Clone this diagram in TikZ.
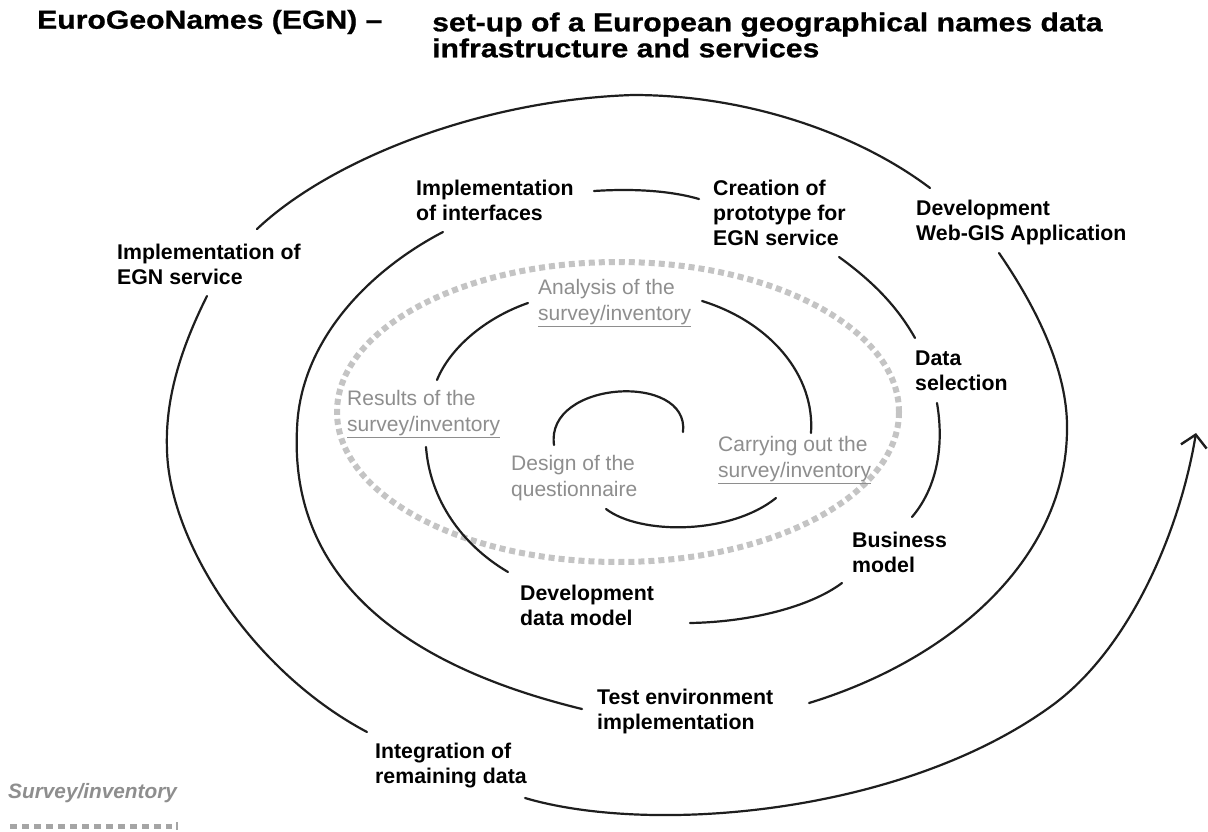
\documentclass[tikz,border=0pt]{standalone}
\usepackage{fontspec}
\setmainfont{Liberation Sans}
\newfontfamily\egntitlefont[FakeStretch=1.16, FakeBold=0.8, Ligatures=TeX]{Liberation Sans Bold}
\usetikzlibrary{arrows.meta}
\definecolor{graytext}{HTML}{8E8E8E}
\definecolor{graydots}{HTML}{C4C4C4}
\definecolor{spiralc}{HTML}{1E1E1E}
\begin{document}
\begin{tikzpicture}[x=1pt,y=-1pt,
  spiral/.style={line width=2.2pt, draw=spiralc, line cap=round},
  lbl/.style={font=\bfseries\fontsize{21.3}{25}\selectfont, align=left, anchor=west, inner sep=0pt, text=black},
  glbl/.style={font=\fontsize{21}{26}\selectfont, align=left, anchor=west, inner sep=0pt, text=graytext},
  ttl/.style={font=\egntitlefont\fontsize{26}{26}\selectfont, align=left, anchor=west, inner sep=0pt},
  surveyline/.style={draw=graydots, line width=6pt, dash pattern=on 6pt off 4pt}]
\useasboundingbox (0,0) rectangle (1208,832);
\fill[white] (0,0) rectangle (1208,832);

% title
\node[ttl] (title1) at (37,22) {EuroGeoNames (EGN) –};
\node[ttl] (title2) at (432,35) {set-up of a European geographical names data\\infrastructure and services};

% survey/inventory ellipse
\draw[surveyline] (618,412) ellipse [x radius=281, y radius=150];

% spiral segments, from the centre outwards
\draw[spiral] (554,445) .. controls (545,380) and (690,372) .. (683,432);
\draw[spiral] (606,509) .. controls (640,535) and (730,535) .. (776,498);
\draw[spiral] (702,301) .. controls (770,322) and (815,375) .. (811,433);
\draw[spiral] (528,303) .. controls (485,318) and (450,348) .. (437,380);
\draw[spiral] (426,447) .. controls (430,500) and (462,545) .. (508,572);
\draw[spiral] (690,623) .. controls (750,622) and (810,607) .. (842,583);
\draw[spiral] (937,403) .. controls (945,450) and (935,490) .. (912,517);
\draw[spiral] (839,257) .. controls (875,283) and (898,308) .. (915,338);
\draw[spiral] (594,191) .. controls (640,188) and (675,192) .. (699,199);
\draw[spiral] (443,232) .. controls (370,270) and (300,340) .. (297,429)
                        .. controls (292,530) and (340,650) .. (582,709);
\draw[spiral] (999,253) .. controls (1045,320) and (1068,380) .. (1067,430)
                        .. controls (1066,560) and (950,660) .. (809,703);
\draw[spiral] (257,229) .. controls (330,160) and (480,100) .. (633,95)
                        .. controls (750,95) and (860,135) .. (930,188);
\draw[spiral] (207,296) .. controls (180,350) and (165,400) .. (167,450)
                        .. controls (169,540) and (250,670) .. (367,732);
\draw[spiral, -{Straight Barb[length=12pt, width=26pt, line width=2.4pt]}]
      (525,798) .. controls (650,835) and (900,815) .. (1050,707)
                .. controls (1130,650) and (1180,530) .. (1196,433);

% black labels
\node[lbl] (implegn) at (117,264.5) {Implementation of\\EGN service};
\node[lbl] (implif) at (416,200.5) {Implementation\\of interfaces};
\node[lbl] (creat) at (713,213) {Creation of\\prototype for\\EGN service};
\node[lbl] (webgis) at (916,222.5) {Development\\Web-GIS Application};
\node[lbl] (datasel) at (915,370.5) {Data\\selection};
\node[lbl] (busmod) at (852,552.5) {Business\\model};
\node[lbl] (devdm) at (520,605.5) {Development\\data model};
\node[lbl] (testenv) at (597,711.5) {Test environment\\implementation};
\node[lbl] (integ) at (375,766) {Integration of\\remaining data};

% gray labels
\node[glbl] (anal) at (538,303) {Analysis of the\\\underline{survey/inventory}};
\node[glbl] (results) at (347,414) {Results of the\\\underline{survey/inventory}};
\node[glbl] (design) at (511,478) {Design of the\\questionnaire};
\node[glbl] (carry) at (718,460) {Carrying out the\\\underline{survey/inventory}};

% legend
\node[font=\bfseries\itshape\fontsize{20.8}{24}\selectfont, text=graytext, anchor=west, inner sep=0pt] (legend) at (8,793) {Survey/inventory};
\coordinate (lgA) at (10,826);
\coordinate (lgB) at (172,826);
\coordinate (lgC) at (177,822);
\coordinate (lgD) at (177,830);
\draw[draw=graytext!80, line width=5pt, dash pattern=on 7pt off 5pt] (lgA) -- (lgB);
\draw[draw=graytext!80, line width=1.5pt] (lgC) -- (lgD);
\end{tikzpicture}
\end{document}
